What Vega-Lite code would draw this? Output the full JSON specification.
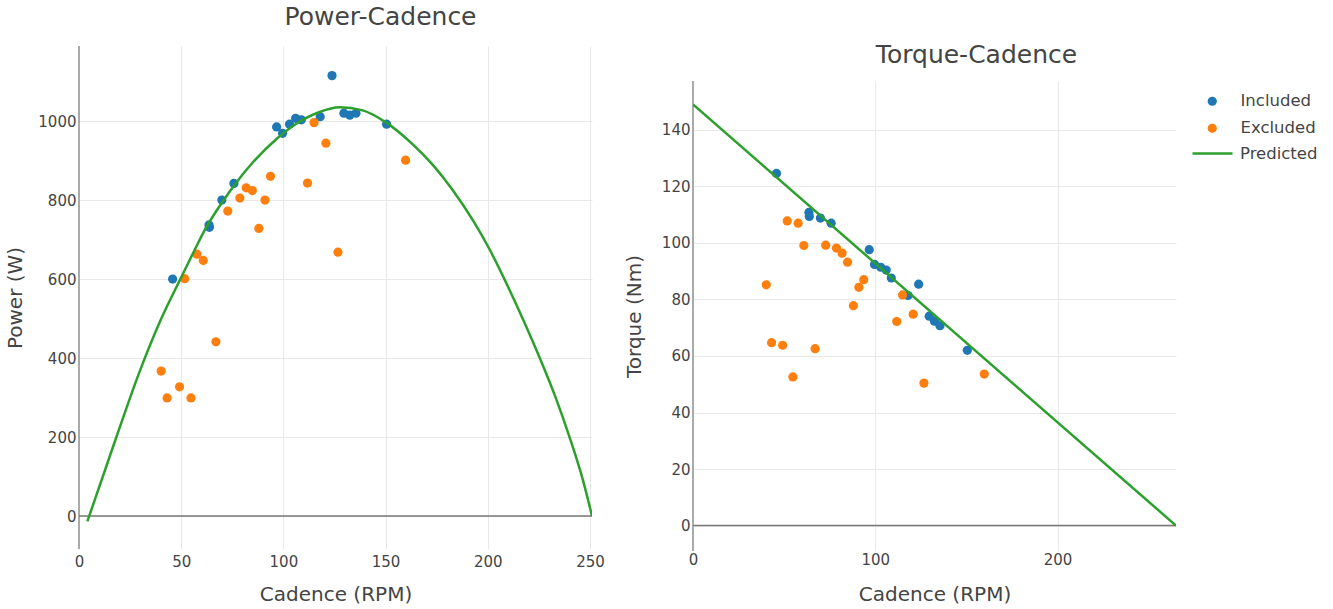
{
  "$schema": "https://vega.github.io/schema/vega-lite/v6.json",
  "padding": 5,
  "background": "white",
  "spacing": 19,
  "config": {
    "font": "DejaVu Sans",
    "view": {"stroke": null},
    "axis": {
      "labelColor": "#444444",
      "titleColor": "#444444",
      "labelFontSize": 15,
      "titleFontSize": 20,
      "titleFontWeight": "normal",
      "domain": false,
      "ticks": false,
      "tickSize": 0,
      "labelFlush": false,
      "grid": true,
      "gridColor": "#e8e8e8",
      "gridWidth": 1
    },
    "title": {"fontSize": 25, "fontWeight": "normal", "color": "#444444", "anchor": "middle"}
  },
  "datasets": {
    "points": [
      {"cadence": 45.8, "power": 600, "torque": 124.6, "series": "Included"},
      {"cadence": 63.6, "power": 737, "torque": 110.8, "series": "Included"},
      {"cadence": 63.8, "power": 731, "torque": 109.4, "series": "Included"},
      {"cadence": 69.9, "power": 800, "torque": 108.8, "series": "Included"},
      {"cadence": 75.8, "power": 842, "torque": 107.0, "series": "Included"},
      {"cadence": 96.7, "power": 985, "torque": 97.6, "series": "Included"},
      {"cadence": 99.6, "power": 969, "torque": 92.4, "series": "Included"},
      {"cadence": 103.0, "power": 992, "torque": 91.4, "series": "Included"},
      {"cadence": 106.0, "power": 1007, "torque": 90.4, "series": "Included"},
      {"cadence": 108.8, "power": 1003, "torque": 87.6, "series": "Included"},
      {"cadence": 118.0, "power": 1011, "torque": 81.4, "series": "Included"},
      {"cadence": 123.8, "power": 1115, "torque": 85.4, "series": "Included"},
      {"cadence": 129.6, "power": 1020, "torque": 74.1, "series": "Included"},
      {"cadence": 132.5, "power": 1015, "torque": 72.3, "series": "Included"},
      {"cadence": 135.5, "power": 1020, "torque": 70.7, "series": "Included"},
      {"cadence": 150.5, "power": 992, "torque": 62.0, "series": "Included"},
      {"cadence": 115.0, "power": 996, "torque": 81.6, "series": "Excluded"},
      {"cadence": 120.8, "power": 944, "torque": 74.8, "series": "Excluded"},
      {"cadence": 93.7, "power": 860, "torque": 87.0, "series": "Excluded"},
      {"cadence": 111.8, "power": 843, "torque": 72.2, "series": "Excluded"},
      {"cadence": 81.8, "power": 831, "torque": 96.4, "series": "Excluded"},
      {"cadence": 84.8, "power": 824, "torque": 93.2, "series": "Excluded"},
      {"cadence": 78.7, "power": 805, "torque": 98.2, "series": "Excluded"},
      {"cadence": 91.0, "power": 800, "torque": 84.3, "series": "Excluded"},
      {"cadence": 72.8, "power": 772, "torque": 99.2, "series": "Excluded"},
      {"cadence": 88.0, "power": 728, "torque": 77.8, "series": "Excluded"},
      {"cadence": 126.7, "power": 668, "torque": 50.4, "series": "Excluded"},
      {"cadence": 57.7, "power": 663, "torque": 107.0, "series": "Excluded"},
      {"cadence": 60.8, "power": 647, "torque": 99.1, "series": "Excluded"},
      {"cadence": 51.7, "power": 601, "torque": 107.8, "series": "Excluded"},
      {"cadence": 67.0, "power": 441, "torque": 62.6, "series": "Excluded"},
      {"cadence": 40.2, "power": 367, "torque": 85.2, "series": "Excluded"},
      {"cadence": 49.2, "power": 327, "torque": 63.8, "series": "Excluded"},
      {"cadence": 43.1, "power": 299, "torque": 64.7, "series": "Excluded"},
      {"cadence": 54.8, "power": 299, "torque": 52.6, "series": "Excluded"},
      {"cadence": 159.8, "power": 901, "torque": 53.6, "series": "Excluded"}
    ],
    "power_curve": [
      {"cadence": 4.1, "power": -13.5, "series": "Predicted"},
      {"cadence": 18.3, "power": 200, "series": "Predicted"},
      {"cadence": 29.6, "power": 365, "series": "Predicted"},
      {"cadence": 40, "power": 497, "series": "Predicted"},
      {"cadence": 49.7, "power": 601, "series": "Predicted"},
      {"cadence": 55, "power": 657, "series": "Predicted"},
      {"cadence": 61.5, "power": 724, "series": "Predicted"},
      {"cadence": 70.4, "power": 797, "series": "Predicted"},
      {"cadence": 76.9, "power": 844, "series": "Predicted"},
      {"cadence": 85, "power": 895, "series": "Predicted"},
      {"cadence": 96.5, "power": 954, "series": "Predicted"},
      {"cadence": 106.3, "power": 993, "series": "Predicted"},
      {"cadence": 117.7, "power": 1023, "series": "Predicted"},
      {"cadence": 127.4, "power": 1035, "series": "Predicted"},
      {"cadence": 138.8, "power": 1027, "series": "Predicted"},
      {"cadence": 150.3, "power": 996, "series": "Predicted"},
      {"cadence": 163.3, "power": 941, "series": "Predicted"},
      {"cadence": 173.1, "power": 889, "series": "Predicted"},
      {"cadence": 182.9, "power": 825, "series": "Predicted"},
      {"cadence": 192.7, "power": 749, "series": "Predicted"},
      {"cadence": 200.8, "power": 676, "series": "Predicted"},
      {"cadence": 210.6, "power": 573, "series": "Predicted"},
      {"cadence": 218.8, "power": 480, "series": "Predicted"},
      {"cadence": 225.3, "power": 402, "series": "Predicted"},
      {"cadence": 233.5, "power": 296, "series": "Predicted"},
      {"cadence": 240, "power": 200, "series": "Predicted"},
      {"cadence": 246.5, "power": 92, "series": "Predicted"},
      {"cadence": 251, "power": 0, "series": "Predicted"}
    ],
    "torque_line": [
      {"cadence": 0, "torque": 149, "series": "Predicted"},
      {"cadence": 265, "torque": 0, "series": "Predicted"}
    ]
  },
  "hconcat": [
    {
      "title": {"text": "Power-Cadence", "offset": 15, "dx": 45},
      "width": 513,
      "height": 503,
      "layer": [
        {
          "data": {"values": [{}]},
          "mark": {"type": "rule", "color": "#aaaaaa", "strokeWidth": 2},
          "encoding": {"x": {"datum": 0, "type": "quantitative"}}
        },
        {
          "data": {"values": [{}]},
          "mark": {"type": "rule", "color": "#777777", "strokeWidth": 1.5},
          "encoding": {"y": {"datum": 0, "type": "quantitative"}}
        },
        {
          "data": {"name": "points"},
          "mark": {"type": "point", "filled": true, "size": 85, "opacity": 1},
          "encoding": {
            "x": {"field": "cadence", "type": "quantitative", "scale": {"domain": [0, 251], "nice": false, "zero": false},
                  "axis": {"title": "Cadence (RPM)", "values": [0, 50, 100, 150, 200, 250], "labelPadding": 5, "titlePadding": 15}},
            "y": {"field": "power", "type": "quantitative", "scale": {"domain": [-83.5, 1190], "nice": false, "zero": false},
                  "axis": {"title": "Power (W)", "values": [0, 200, 400, 600, 800, 1000], "format": "d", "labelPadding": 3, "titlePadding": 12}},
            "color": {"field": "series", "type": "nominal",
                      "scale": {"domain": ["Included", "Excluded"], "range": ["#1f77b4", "#ff7f0e"]},
                      "legend": {"orient": "none", "legendX": 1125, "legendY": 47, "title": null, "labelFontSize": 16.5, "labelColor": "#444444",
                                 "symbolType": "circle", "symbolSize": 85, "labelOffset": 20, "rowPadding": 10, "symbolOpacity": 1}}
          }
        },
        {
          "data": {"name": "power_curve"},
          "mark": {"type": "line", "strokeWidth": 2.5, "interpolate": "monotone", "clip": true},
          "encoding": {
            "x": {"field": "cadence", "type": "quantitative"},
            "y": {"field": "power", "type": "quantitative"},
            "stroke": {"field": "series", "type": "nominal",
                       "scale": {"domain": ["Predicted"], "range": ["#2ca02c"]},
                       "legend": {"orient": "none", "legendX": 1112, "legendY": 86, "title": null, "labelFontSize": 16.5, "labelColor": "#444444",
                                  "symbolType": "stroke", "symbolSize": 1600, "symbolStrokeWidth": 2.5, "labelOffset": 6}}
          }
        }
      ]
    },
    {
      "spacing": -9,
      "vconcat": [
        {
          "width": 483,
          "height": 1,
          "data": {"values": [{}]},
          "mark": {"type": "text"},
          "encoding": {"text": {"value": ""}}
        },
        {
          "title": {"text": "Torque-Cadence", "offset": 12, "dx": 42},
          "width": 483,
          "height": 470,
          "layer": [
            {
              "data": {"values": [{}]},
              "mark": {"type": "rule", "color": "#aaaaaa", "strokeWidth": 2},
              "encoding": {"x": {"datum": 0, "type": "quantitative"}}
            },
            {
              "data": {"values": [{}]},
              "mark": {"type": "rule", "color": "#777777", "strokeWidth": 1.5},
              "encoding": {"y": {"datum": 0, "type": "quantitative"}}
            },
            {
              "data": {"name": "points"},
              "mark": {"type": "point", "filled": true, "size": 85, "opacity": 1},
              "encoding": {
                "x": {"field": "cadence", "type": "quantitative", "scale": {"domain": [0, 265], "nice": false, "zero": false},
                      "axis": {"title": "Cadence (RPM)", "values": [0, 100, 200], "labelPadding": 1, "titlePadding": 17}},
                "y": {"field": "torque", "type": "quantitative", "scale": {"domain": [-9, 157.3], "nice": false, "zero": false},
                      "axis": {"title": "Torque (Nm)", "values": [0, 20, 40, 60, 80, 100, 120, 140], "labelPadding": 3, "titlePadding": 17}},
                "color": {"field": "series", "type": "nominal"}
              }
            },
            {
              "data": {"name": "torque_line"},
              "mark": {"type": "line", "strokeWidth": 2.5, "clip": true},
              "encoding": {
                "x": {"field": "cadence", "type": "quantitative"},
                "y": {"field": "torque", "type": "quantitative"},
                "stroke": {"field": "series", "type": "nominal"}
              }
            }
          ]
        }
      ]
    }
  ]
}
